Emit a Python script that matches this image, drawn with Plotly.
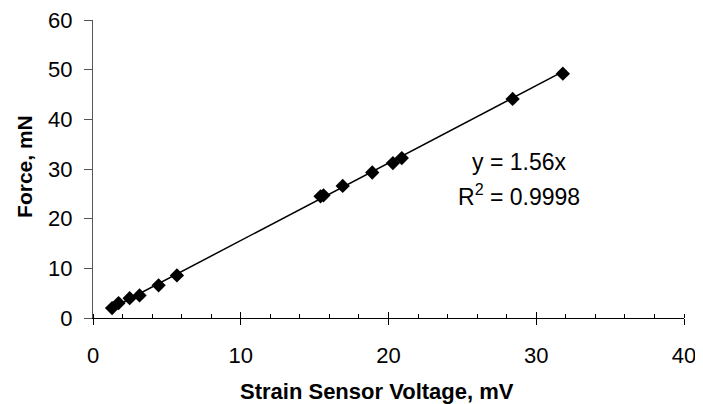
import plotly.graph_objects as go

voltage_mv = [1.29, 1.73, 2.48, 3.15, 4.44, 5.68, 15.4, 15.6, 16.9, 18.9, 20.3, 20.9, 28.4, 31.8]
force_mn = [2.0, 3.0, 4.0, 4.55, 6.57, 8.57, 24.5, 24.7, 26.6, 29.3, 31.2, 32.2, 44.1, 49.2]
slope = 1.56
r2_text = "0.9998"
x_ticks = [0, 10, 20, 30, 40]
y_ticks = [0, 10, 20, 30, 40, 50, 60]
x_title = "Strain Sensor Voltage, mV"
y_title = "Force, mN"

font_family = "Liberation Sans, Arial, sans-serif"

fig = go.Figure()

x_fit = [min(voltage_mv), max(voltage_mv)]
y_fit = [slope * v for v in x_fit]
fig.add_trace(go.Scatter(x=x_fit, y=y_fit, mode="lines",
                         line=dict(color="black", width=1.5),
                         showlegend=False, hoverinfo="skip"))
fig.add_trace(go.Scatter(x=voltage_mv, y=force_mn, mode="markers",
                         marker=dict(symbol="diamond", size=11, color="black"),
                         showlegend=False))
# invisible trace on the overlay axis so the inner half of the major ticks shows
fig.add_trace(go.Scatter(x=[0], y=[0], xaxis="x2", mode="markers",
                         marker=dict(opacity=0), showlegend=False, hoverinfo="skip"))

fig.add_annotation(x=28.8, y=31.4, xref="x", yref="y", text=f"y = {slope}x",
                   showarrow=False, font=dict(size=23, color="black", family=font_family))
fig.add_annotation(x=28.8, y=24.8, xref="x", yref="y", text=f"R<sup>2</sup> = {r2_text}",
                   showarrow=False, font=dict(size=23, color="black", family=font_family))

fig.add_annotation(x=0.48, y=-0.248, xref="paper", yref="paper", text=f"<b>{x_title}</b>",
                   showarrow=False, xanchor="center", yanchor="middle",
                   font=dict(size=22, color="black", family=font_family))
fig.add_annotation(x=-0.115, y=0.507, xref="paper", yref="paper", text=f"<b>{y_title}</b>",
                   showarrow=False, xanchor="center", yanchor="middle", textangle=-90,
                   font=dict(size=21, color="black", family=font_family))

fig.update_layout(
    width=695, height=396,
    margin=dict(l=85, r=19, t=12, b=86),
    paper_bgcolor="white", plot_bgcolor="white",
    font=dict(family=font_family, color="black"),
    xaxis=dict(range=[0, 40], tickvals=x_ticks, showgrid=False, zeroline=False,
               automargin=False, ticklabeloverflow="allow",
               showline=True, linecolor="black", linewidth=1,
               ticks="outside", ticklen=6, tickcolor="black", tickwidth=1,
               minor=dict(ticks="inside", dtick=2, ticklen=4, tickcolor="black", showgrid=False),
               tickfont=dict(size=22), ticklabelstandoff=12),
    xaxis2=dict(range=[0, 40], tickvals=x_ticks, overlaying="x", side="bottom",
                automargin=False,
                showgrid=False, zeroline=False, showline=False, showticklabels=False,
                ticks="inside", ticklen=6, tickcolor="black", tickwidth=1, anchor="y"),
    yaxis=dict(range=[0, 60], tickvals=y_ticks, showgrid=False, zeroline=False,
               automargin=False, ticklabeloverflow="allow",
               showline=True, linecolor="#555", linewidth=1,
               ticks="outside", ticklen=8, tickcolor="#555", tickwidth=1,
               tickfont=dict(size=22), ticklabelstandoff=7),
)

fig.write_html("out.html")
